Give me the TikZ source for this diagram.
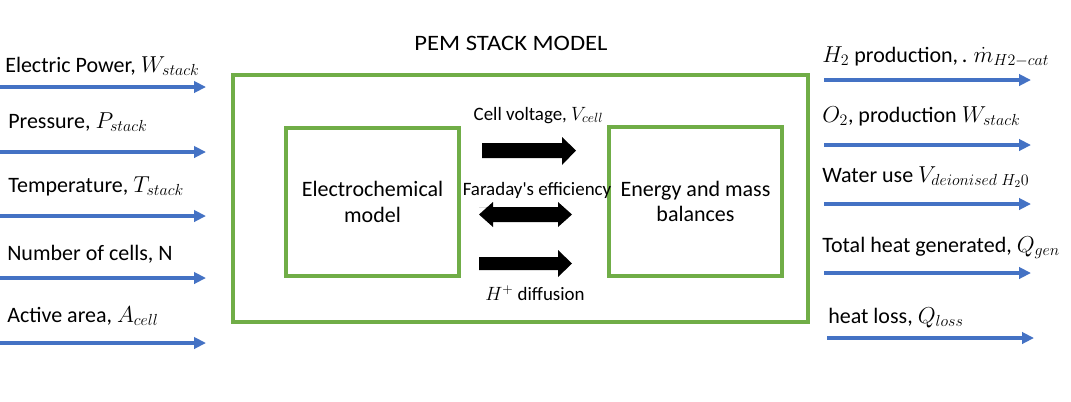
\documentclass[tikz,border=0pt]{standalone}
\usepackage{fontspec}
\setmainfont{Carlito}
\usetikzlibrary{arrows.meta}
\definecolor{grn}{HTML}{70AD47}
\definecolor{blu}{HTML}{4472C4}
\begin{document}
\begin{tikzpicture}[x=0.75pt,y=-0.75pt,
  box/.style={draw=grn,line width=3pt,inner sep=0},
  flow/.style={draw=blu,line width=2.3pt,-{Triangle[length=9pt,width=8.5pt]}},
  lbl/.style={anchor=base west,inner sep=0,font=\fontsize{16.5}{19}\selectfont},
  mid/.style={anchor=base,inner sep=0,font=\fontsize{14.2}{17}\selectfont},
  inner/.style={align=center,inner sep=0,font=\fontsize{16.5}{19}\selectfont},
  blk/.style={fill=black}]
\useasboundingbox (0,0) rectangle (1071,401);
% boxes
\node[box,minimum width=431.25pt,minimum height=185.25pt] (stack) at (520.5,198.5) {};
\node[box,minimum width=129.75pt,minimum height=111pt] (echem) at (372.5,202) {};
\node[box,minimum width=129.75pt,minimum height=111.75pt] (energy) at (695.5,201.5) {};
\node[inner] (echemtxt) at (echem) {Electrochemical\\model};
\node[inner] (energytxt) at (energy) {Energy and mass\\balances};
\node[anchor=base,inner sep=0,font=\fontsize{16.5}{19}\selectfont] (title) at (511,50) {\scalebox{1.12}[1]{PEM STACK MODEL}};
% block arrows
\fill[blk] (482,143) -- (562,143) -- (562,137) -- (576,150.5) -- (562,165) -- (562,158) -- (482,158) -- cycle;
\fill[blk] (479,207) -- (493,207) -- (493,202) -- (479,214.5) -- (493,227) -- (493,222) -- (558,222) -- (558,227) -- (572,214.5) -- (558,202) -- (558,207) -- (493,207);
\fill[blk] (479,257) -- (558,257) -- (558,250) -- (572,263.5) -- (558,277) -- (558,270) -- (479,270) -- cycle;
\node[mid] (vcell) at (538.5,120) {Cell voltage, $V_{cell}$};
\node[mid] (faraday) at (537,195) {Faraday\textquotesingle s efficiency};
\node[mid] (hdiff) at (535,300) {$H^{+}$ diffusion};
% input arrows
\foreach \n/\y in {1/87,2/152,3/216,4/278,5/343}{
  \coordinate (in\n s) at (0,\y);
  \coordinate (in\n e) at (206,\y);
  \draw[flow] (in\n s) -- (in\n e);
}
\node[lbl] (l1) at (5,72) {Electric Power, $W_{stack}$};
\node[lbl] (l2) at (8,128) {Pressure, $P_{stack}$};
\node[lbl] (l3) at (8,192) {Temperature, $T_{stack}$};
\node[lbl] (l4) at (7,260) {Number of cells, N};
\node[lbl] (l5) at (7,322) {Active area, $A_{cell}$};
% output arrows
\foreach \n/\y/\xa/\xb in {1/80/824/1031,2/145/824/1031,3/204/824/1031,4/273/824/1031,5/338/827/1034}{
  \coordinate (out\n s) at (\xa,\y);
  \coordinate (out\n e) at (\xb,\y);
  \draw[flow] (out\n s) -- (out\n e);
}
\node[lbl] (r1) at (822,62) {$H_2$ production,\,.\;$\dot{m}_{H2-cat}$};
\node[lbl] (r2) at (822,122) {$O_2$, production $W_{stack}$};
\node[lbl] (r3) at (822,182) {Water use $V_{deionised\;H_20}$};
\node[lbl] (r4) at (822,252) {Total heat generated, $Q_{gen}$};
\node[lbl] (r5) at (828,323) {heat loss, $Q_{loss}$};
\end{tikzpicture}
\end{document}
